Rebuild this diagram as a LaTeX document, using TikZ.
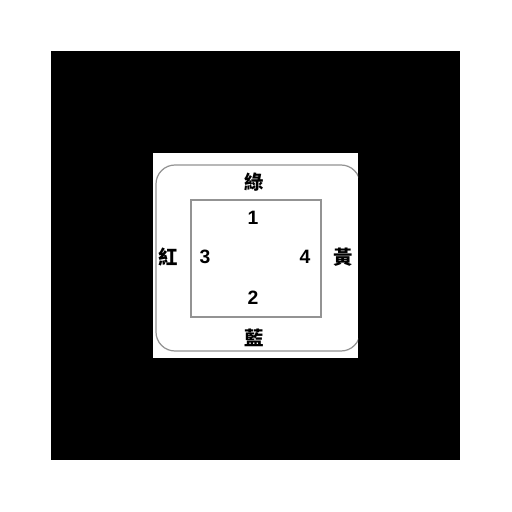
\documentclass[tikz,border=0pt]{standalone}
\usepackage{fontspec}
\setmainfont{Liberation Sans}
\newfontfamily\cjkfont{Noto Sans CJK TC}
\usepackage{tikz}

\tikzset{
    colourlabel/.style={font=\cjkfont\bfseries\fontsize{11}{11}\selectfont, inner sep=0pt},
    numlabel/.style={font=\bfseries\fontsize{11}{11}\selectfont, inner sep=0pt},
    frameline/.style={draw=gray!85, line width=0.7pt}
}

\begin{document}
\begin{tikzpicture}

    \useasboundingbox (0,0) rectangle (10.24,10.24);
    \fill[white] (0,0) rectangle (10.24,10.24);

    % === Black backdrop ===
    \fill[black] (1.02,1.04) rectangle (9.20,9.22);
    \fill[white] (3.06,3.08) rectangle (7.16,7.18);

    % === Outer rounded frame (cut off at the right) ===
    \begin{scope}
        \clip (3.06,3.08) rectangle (7.16,7.18);
        \draw[frameline, rounded corners=0.38cm] (3.12,3.22) rectangle (7.20,6.94);
    \end{scope}

    % === Inner square ===
    \draw[frameline] (3.82,3.90) rectangle (6.42,6.24);

    % Colour names round the frame
    \node[colourlabel] (green)  at (5.08,6.60) {綠};
    \node[colourlabel] (red)    at (3.36,5.10) {紅};
    \node[colourlabel] (yellow) at (6.86,5.10) {黃};
    \node[colourlabel] (blue)   at (5.08,3.48) {藍};

    % Numbers inside the square
    \node[numlabel] (n1) at (5.06,5.88) {1};
    \node[numlabel] (n3) at (4.10,5.10) {3};
    \node[numlabel] (n4) at (6.10,5.10) {4};
    \node[numlabel] (n2) at (5.06,4.28) {2};

\end{tikzpicture}
\end{document}
